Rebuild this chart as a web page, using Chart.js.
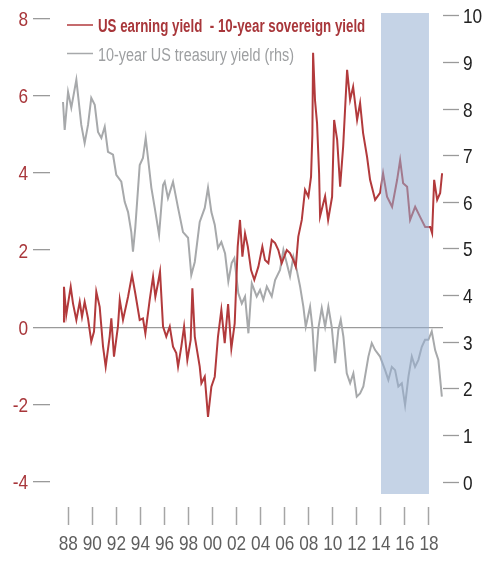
<!DOCTYPE html>
<html>
<head>
<meta charset="utf-8">
<script src="https://cdn.jsdelivr.net/npm/chart.js@4.4.1/dist/chart.umd.min.js"></script>
<style>
  html, body { margin: 0; padding: 0; background: #fff; }
  #wrap { width: 500px; height: 564px; position: relative; }
</style>
</head>
<body>
<div id="wrap"><canvas id="yieldChart"></canvas></div>
<script>
// US earning yield - 10-year sovereign yield (lhs)
const spreadYears = [1987.56, 1987.64, 1987.83, 1988.20, 1988.39, 1988.67, 1988.95, 1989.14, 1989.36, 1989.64,
    1989.91, 1990.14, 1990.33, 1990.61, 1990.89, 1991.11, 1991.44, 1991.58, 1991.80, 1992.13,
    1992.28, 1992.55, 1992.97, 1993.30, 1993.57, 1993.94, 1994.21, 1994.41, 1994.77, 1995.05,
    1995.24, 1995.46, 1995.63, 1995.88, 1996.15, 1996.44, 1996.71, 1996.98, 1997.13, 1997.40,
    1997.63, 1997.90, 1998.18, 1998.32, 1998.52, 1998.93, 1999.07, 1999.35, 1999.62, 1999.90,
    2000.18, 2000.45, 2000.73, 2001.01, 2001.29, 2001.56, 2001.84, 2002.09, 2002.28, 2002.48,
    2002.70, 2002.93, 2003.20, 2003.47, 2003.81, 2004.14, 2004.36, 2004.64, 2004.92, 2005.20,
    2005.47, 2005.75, 2006.17, 2006.44, 2006.72, 2006.92, 2007.13, 2007.42, 2007.69, 2007.97,
    2008.19, 2008.30, 2008.36, 2008.52, 2008.69, 2008.86, 2008.94, 2009.21, 2009.36, 2009.61,
    2009.94, 2010.11, 2010.36, 2010.61, 2010.86, 2011.19, 2011.44, 2011.69, 2012.02, 2012.27,
    2012.52, 2012.85, 2013.10, 2013.52, 2013.93, 2014.18, 2014.51, 2014.93, 2015.35, 2015.60,
    2015.85, 2016.18, 2016.43, 2016.85, 2017.26, 2017.68, 2018.10, 2018.26, 2018.43, 2018.68,
    2018.93, 2019.09];
const spreadValues = [0.15, 1.05, 0.32, 1.05, 0.62, 0.19, 0.66, 0.27, 0.66, 0.23,
    -0.37, -0.11, 0.92, 0.53, -0.50, -1.02, -0.24, 0.23, -0.76, 0.02,
    0.71, 0.19, 0.79, 1.35, 0.88, 0.19, 0.23, -0.16, 0.71, 1.31,
    0.79, 1.14, 1.44, 0.02, -0.24, 0.02, -0.50, -0.67, -1.02, -0.50,
    0.02, -0.85, -0.33, 1.01, -0.24, -1.02, -1.45, -1.28, -2.32, -1.54,
    -1.28, -0.24, 0.45, -0.41, 0.60, -0.55, 0.10, 2.09, 2.78, 1.83,
    2.43, 2.09, 1.48, 1.23, 1.57, 2.09, 1.74, 1.66, 2.26, 2.18,
    2.00, 1.66, 2.00, 1.92, 1.74, 1.57, 2.35, 2.78, 3.56, 3.38,
    3.90, 5.00, 7.11, 5.88, 5.28, 3.99, 2.87, 3.21, 3.39, 2.78,
    3.38, 5.37, 4.86, 3.64, 4.68, 6.67, 5.89, 6.23, 5.37, 5.81,
    5.03, 4.41, 3.82, 3.30, 3.48, 3.99, 3.38, 3.12, 3.82, 4.33,
    3.73, 3.64, 2.78, 3.12, 2.86, 2.60, 2.60, 2.44, 3.82, 3.30,
    3.48, 3.99];

// 10-year US treasury yield (rhs)
const treasuryYears = [1987.56, 1987.70, 1987.98, 1988.25, 1988.67, 1988.81, 1989.08, 1989.36, 1989.64, 1989.91,
    1990.20, 1990.47, 1990.75, 1991.03, 1991.30, 1991.72, 1991.99, 1992.41, 1992.69, 1992.97,
    1993.24, 1993.38, 1993.57, 1993.94, 1994.21, 1994.44, 1994.63, 1994.91, 1995.19, 1995.55,
    1995.88, 1996.02, 1996.29, 1996.71, 1997.13, 1997.54, 1997.96, 1998.23, 1998.52, 1998.93,
    1999.35, 1999.62, 1999.90, 2000.18, 2000.45, 2000.73, 2001.04, 2001.31, 2001.59, 2001.81,
    2002.14, 2002.43, 2002.70, 2002.98, 2003.26, 2003.67, 2003.95, 2004.22, 2004.51, 2004.92,
    2005.20, 2005.61, 2005.89, 2006.17, 2006.44, 2006.72, 2007.00, 2007.28, 2007.55, 2007.75,
    2008.11, 2008.30, 2008.52, 2008.80, 2009.08, 2009.36, 2009.63, 2009.91, 2010.19, 2010.46,
    2010.66, 2010.88, 2011.16, 2011.44, 2011.71, 2011.99, 2012.27, 2012.54, 2012.96, 2013.24,
    2013.52, 2013.93, 2014.35, 2014.62, 2014.91, 2015.18, 2015.45, 2015.74, 2016.01, 2016.29,
    2016.57, 2016.84, 2017.12, 2017.40, 2017.67, 2017.95, 2018.23, 2018.51, 2018.78, 2019.07];
const treasuryYield = [8.15, 7.55, 8.37, 8.03, 8.63, 8.30, 7.66, 7.27, 7.66, 8.24,
    8.09, 7.51, 7.38, 7.62, 7.08, 7.02, 6.59, 6.44, 6.01, 5.79,
    5.36, 4.94, 5.45, 6.80, 6.95, 7.38, 6.95, 6.31, 5.88, 5.30,
    6.37, 6.44, 6.09, 6.44, 5.88, 5.36, 5.24, 4.44, 4.72, 5.58,
    5.88, 6.31, 5.79, 5.52, 5.02, 5.15, 4.90, 4.30, 4.70, 4.80,
    4.05, 3.83, 3.98, 3.19, 4.26, 3.98, 4.12, 3.91, 4.19, 3.98,
    4.33, 4.55, 4.98, 4.69, 4.41, 4.83, 4.55, 4.19, 3.76, 3.33,
    3.76, 3.33, 2.37, 3.30, 3.73, 3.33, 3.76, 3.33, 2.55, 3.26,
    3.48, 3.12, 2.33, 2.12, 2.33, 1.83, 1.90, 2.05, 2.69, 2.98,
    2.83, 2.69, 2.40, 2.19, 2.47, 2.40, 2.05, 2.12, 1.65, 2.26,
    2.69, 2.47, 2.62, 2.90, 3.05, 3.05, 3.23, 2.83, 2.62, 1.83];

// shaded period and axis ticks
const bandYears = [2014, 2018];
const bandRange = [-4.32, 8.14];
const leftTicks = [-4, -2, 0, 2, 4, 6, 8];
const rightTicks = [0, 1, 2, 3, 4, 5, 6, 7, 8, 9, 10];
const yearTicks = [1988, 1990, 1992, 1994, 1996, 1998, 2000, 2002, 2004, 2006, 2008, 2010, 2012, 2014, 2016, 2018];

const FONT = "'Liberation Sans', Arial, sans-serif";
const RED = '#b23a3c';
const GREY = '#a7a9ab';

const toPoints = (xs, ys) => xs.map((x, i) => ({ x: x, y: ys[i] }));
const yearLabel = v => String(v % 100).padStart(2, '0');

// no condensed face is installed, so squeeze the text horizontally
function narrowText(ctx, text, x, y, align, color, squeeze) {
    ctx.save();
    ctx.translate(x, y);
    ctx.scale(squeeze, 1);
    ctx.textAlign = align;
    ctx.textBaseline = 'alphabetic';
    ctx.fillStyle = color;
    ctx.fillText(text, 0, 0);
    ctx.restore();
}

// tick labels, placed from the chart's own scales
const axisLabels = {
    id: 'axisLabels',
    afterDraw(chart) {
        const ctx = chart.ctx;
        const s = chart.scales;
        ctx.save();
        ctx.font = '21px ' + FONT;
        s.x.ticks.forEach(t => narrowText(ctx, yearLabel(t.value), s.x.getPixelForValue(t.value), s.x.top + 43, 'center', '#5e5e5e', 0.82));
        s.y.ticks.forEach(t => narrowText(ctx, String(t.value), s.y.right - 22, s.y.getPixelForValue(t.value) + 7.5, 'right', '#a8363a', 0.82));
        s.y1.ticks.forEach(t => narrowText(ctx, String(t.value), s.y1.left + 20, s.y1.getPixelForValue(t.value) + 7.5, 'left', '#222222', 0.82));
        ctx.restore();
    }
};

// legend drawn in the top left corner of the plot
const insideLegend = {
    id: 'insideLegend',
    afterDraw(chart) {
        const ctx = chart.ctx;
        const items = chart.data.datasets.filter(d => d.legendColor);
        ctx.save();
        items.forEach((d, i) => {
            const y = 25 + i * 28.5;
            ctx.strokeStyle = d.borderColor;
            ctx.lineWidth = 1.5;
            ctx.beginPath();
            ctx.moveTo(67, y);
            ctx.lineTo(93, y);
            ctx.stroke();
            ctx.font = (d.legendBold ? 'bold ' : '') + '18px ' + FONT;
            narrowText(ctx, d.label, 98, y + 7, 'left', d.legendColor, d.legendBold ? 0.74 : 0.8);
        });
        ctx.restore();
    }
};

const ctx = document.getElementById('yieldChart');
const yieldChart = new Chart(ctx, {
    type: 'line',
    data: {
        datasets: [
            {
                label: 'shaded',
                data: toPoints(bandYears, [bandRange[1], bandRange[1]]),
                yAxisID: 'y',
                borderWidth: 0,
                pointRadius: 0,
                backgroundColor: 'rgba(150, 175, 210, 0.55)',
                fill: { value: bandRange[0] },
                order: 0
            },
            {
                label: 'US earning yield  - 10-year sovereign yield',
                data: toPoints(spreadYears, spreadValues),
                yAxisID: 'y',
                borderColor: RED,
                legendColor: '#a8363a',
                legendBold: true,
                borderWidth: 2,
                pointRadius: 0,
                tension: 0,
                order: 1
            },
            {
                label: '10-year US treasury yield (rhs)',
                data: toPoints(treasuryYears, treasuryYield),
                yAxisID: 'y1',
                borderColor: GREY,
                legendColor: '#9d9fa1',
                legendBold: false,
                borderWidth: 2,
                pointRadius: 0,
                tension: 0,
                order: 2
            }
        ]
    },
    options: {
        responsive: true,
        maintainAspectRatio: false,
        animation: false,
        layout: { padding: { top: 13, left: 0, right: 0, bottom: 0 } },
        plugins: {
            legend: { display: false },
            tooltip: { enabled: false }
        },
        scales: {
            x: {
                type: 'linear',
                min: 1986.478,
                max: 2019.165,
                afterBuildTicks: axis => { axis.ticks = yearTicks.map(v => ({ value: v })); },
                afterFit: scale => { scale.height = 57; },
                border: { display: false },
                grid: { drawOnChartArea: false, tickLength: 18, tickColor: '#a5a5a5', tickWidth: 1.5 },
                ticks: { display: false, autoSkip: false, maxRotation: 0 }
            },
            y: {
                position: 'left',
                min: -4.655,
                max: 8.14,
                afterBuildTicks: axis => { axis.ticks = leftTicks.map(v => ({ value: v })); },
                afterFit: scale => { scale.width = 50; },
                border: { display: false },
                grid: {
                    color: c => (c.tick && c.tick.value === 0) ? '#9a9a9a' : 'rgba(0,0,0,0)',
                    lineWidth: 1.3,
                    tickLength: 17,
                    tickColor: '#9a9a9a',
                    tickWidth: 1.3
                },
                ticks: { display: false }
            },
            y1: {
                position: 'right',
                min: -0.536,
                max: 10.06,
                afterBuildTicks: axis => { axis.ticks = rightTicks.map(v => ({ value: v })); },
                afterFit: scale => { scale.width = 57; },
                border: { display: false },
                grid: { drawOnChartArea: false, tickLength: 16, tickColor: '#9a9a9a', tickWidth: 1.3 },
                ticks: { display: false }
            }
        }
    },
    plugins: [axisLabels, insideLegend]
});
</script>
</body>
</html>
